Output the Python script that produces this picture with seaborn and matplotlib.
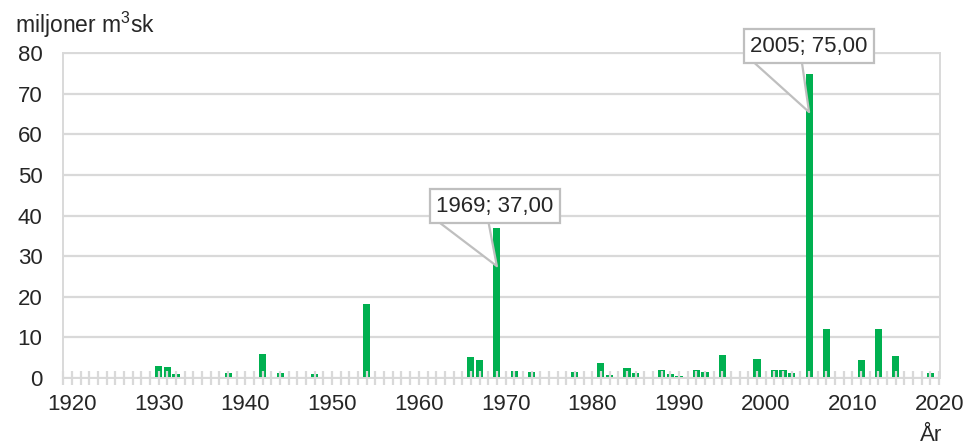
import numpy as np
import pandas as pd
import seaborn as sns
import matplotlib
matplotlib.use("Agg")
import matplotlib.pyplot as plt
import matplotlib.ticker as ticker

# data
years = [1930, 1931, 1932, 1938, 1942, 1944, 1948, 1954, 1966, 1967,
         1969, 1971, 1973, 1978, 1981, 1982, 1984, 1985, 1988, 1989,
         1990, 1992, 1993, 1995, 1999, 2001, 2002, 2003, 2005, 2007,
         2011, 2013, 2015, 2019]
volumes = [3.0, 2.6, 0.85, 1.1, 5.9, 1.2, 0.85, 18.2, 5.2, 4.3,
           37.0, 1.7, 1.4, 1.4, 3.6, 0.6, 2.3, 1.2, 1.8, 0.9,
           0.5, 1.8, 1.5, 5.6, 4.6, 1.8, 1.8, 1.15, 75.0, 12.0,
           4.4, 12.0, 5.3, 1.15]
label_years = [1969, 2005]
label_offsets = [(-2, 60), (0, 66)]
y_title = r"miljoner m$\mathregular{^3}$sk"
x_title = "\u00c5r"

GREEN = "#00B050"
GRAY = "#d9d9d9"

sns.set_style("white")
plt.rcParams['font.family'] = ['Liberation Sans', 'DejaVu Sans']
plt.rcParams['mathtext.fontset'] = 'custom'
plt.rcParams['mathtext.rm'] = 'Liberation Sans'

df = pd.DataFrame({"year": years, "volume": volumes})

fig = plt.figure(figsize=(9.72, 4.46), dpi=100)
ax = fig.add_axes([63.3 / 972, 1 - 377.7 / 446, (940 - 63.3) / 972, (377.7 - 53.3) / 446])

sns.barplot(data=df, x="year", y="volume", native_scale=True, color=GREEN,
            saturation=1, width=0.82, errorbar=None, ax=ax, zorder=2, linewidth=0)

ax.set_xlim(1919, 2020.1)
ax.set_ylim(0, 80)
ax.xaxis.set_major_locator(ticker.MultipleLocator(10))
ax.xaxis.set_minor_locator(ticker.MultipleLocator(1))
ax.yaxis.set_major_locator(ticker.MultipleLocator(10))
ax.xaxis.set_major_formatter(ticker.FormatStrFormatter("%d"))

# ticks on top of the bars, gridlines underneath
ax.set_axisbelow(False)
ax.grid(False)
for yv in ax.get_yticks()[1:]:
    ax.axhline(yv, color=GRAY, lw=1.6, zorder=0.5)

ax.tick_params(axis="x", which="both", direction="inout", length=9.6, width=1.6,
               color=GRAY, pad=7, labelsize=16, bottom=True)
ax.tick_params(axis="y", length=0, pad=15, labelsize=16)
for s in ax.spines.values():
    s.set_color(GRAY)
    s.set_linewidth(1.4)
    s.set_zorder(2.5)

ax.set_xlabel("")
ax.set_ylabel("")

fig.text(15 / 972, 1 - 33 / 446, y_title, fontsize=16.5, va="baseline", ha="left")
fig.text(920 / 972, 1 - 441 / 446, x_title, fontsize=16, va="baseline", ha="left")

# callouts: the wedge starts inside the box, the box hides its upper part
for yr, off in zip(label_years, label_offsets):
    val = df.loc[df.year == yr, "volume"].iloc[0]
    txt = f"{yr}; {val:.2f}".replace(".", ",")
    ax.annotate(txt, xy=(yr, val - 9.5), xytext=off, textcoords="offset pixels",
                ha="center", va="center", fontsize=16, annotation_clip=False,
                bbox=dict(boxstyle="square,pad=0.3", fc="white", ec="#bfbfbf", lw=1.6),
                arrowprops=dict(arrowstyle="wedge,tail_width=3.9,shrink_factor=0.5",
                                mutation_scale=10, fc="white", ec="#bfbfbf", lw=1.6,
                                relpos=(0.2, 0.5), patchA=None, shrinkA=0, shrinkB=0),
                zorder=4)

fig.savefig("out.png", dpi=100)
